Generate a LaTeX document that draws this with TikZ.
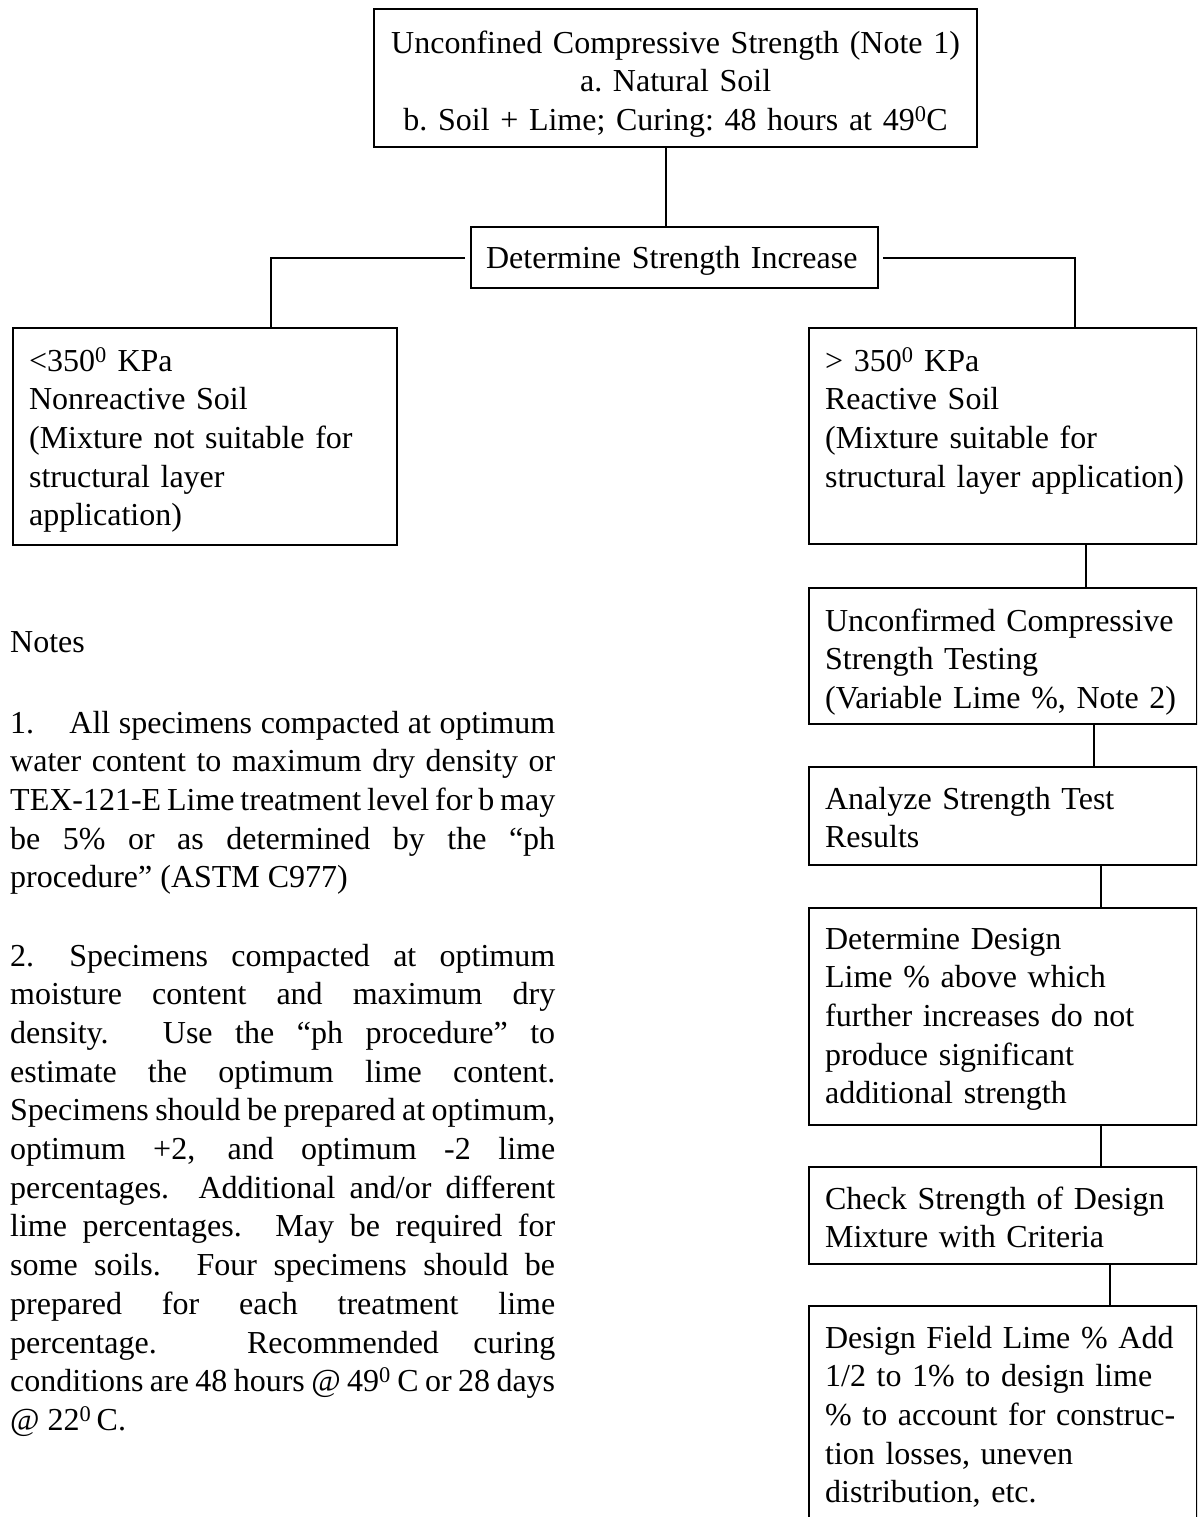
\documentclass[tikz,border=0pt]{standalone}
\usepackage{fontspec}
\setmainfont{Liberation Serif}
\newcommand\mybodyfont{\fontsize{32pt}{38.7pt}\selectfont}
\newcommand\myboxfont{\fontsize{32pt}{38.7pt}\selectfont\frenchspacing}
\newcommand\notesetup{\tolerance=10000\hyphenpenalty=10000\exhyphenpenalty=10000\emergencystretch=0pt}
\tikzset{
  box/.style={draw, line width=2.2pt, rectangle, anchor=north west, inner xsep=16pt, inner ysep=0pt, align=left, font=\myboxfont},
  conn/.style={line width=1.9pt},
  notetext/.style={anchor=base west, inner sep=0pt, text width=545pt, align=justify, font=\mybodyfont}
}
\begin{document}
\begin{tikzpicture}[x=1pt,y=-1pt]
\useasboundingbox (0,0) rectangle (1197,1517);
\fill[white] (0,0) rectangle (1197,1517);
\clip (0,0) rectangle (1197,1517);

% top box
\node[box, text width=571pt, align=center, text height=44pt, text depth=94pt] (top) at (373,8)
  {Unconfined Compressive Strength (Note 1)\\ a. Natural Soil\\ b. Soil + Lime; Curing: 48 hours at 49\textsuperscript{0}C};

\node[box, text width=377pt, inner xsep=15pt, text height=41pt, text depth=20pt] (dsi) at (470,226)
  {Determine Strength Increase};

\node[box, text width=352pt, text height=43pt, text depth=174pt] (lb) at (12,327)
  {<350\textsuperscript{0} KPa\\ Nonreactive Soil\\ (Mixture not suitable for\\ structural layer\\ application)};

\node[box, text width=356pt, text height=43pt, text depth=173pt] (rb) at (808,327)
  {> 350\textsuperscript{0} KPa\\ Reactive Soil\\ (Mixture suitable for\\ \mbox{structural layer application)}};

\node[box, text width=356pt, text height=43pt, text depth=93pt] (ucs) at (808,587)
  {\mbox{Unconfirmed Compressive}\\ Strength Testing\\ \mbox{(Variable Lime \%, Note 2)}};

\node[box, text width=356pt, text height=42pt, text depth=56pt] (ana) at (808,766)
  {Analyze Strength Test\\ Results};

\node[box, text width=356pt, text height=41pt, text depth=176pt] (dd) at (808,907)
  {Determine Design\\ Lime \% above which\\ further increases do not\\ produce significant\\ additional strength};

\node[box, text width=356pt, text height=42pt, text depth=55pt] (chk) at (808,1166)
  {\mbox{Check Strength of Design}\\ Mixture with Criteria};

\node[box, text width=356pt, text height=42pt, text depth=188pt] (df) at (808,1305)
  {\mbox{Design Field Lime \% Add}\\ 1/2 to 1\% to design lime\\ \mbox{\% to account for construc-}\\ tion losses, uneven\\ distribution, etc.};

% connectors
\draw[conn] ([xshift=-10pt]top.south) -- ([xshift=-10pt]top.south |- dsi.north);
\draw[conn, shorten <=5pt] (dsi.west) -| ([xshift=66pt]lb.north);
\draw[conn, shorten <=4pt] (dsi.east) -| ([xshift=72pt]rb.north);
\draw[conn] ([xshift=83pt]rb.south) -- ([xshift=83pt]ucs.north);
\draw[conn] ([xshift=91pt]ucs.south) -- ([xshift=91pt]ana.north);
\draw[conn] ([xshift=98pt]ana.south) -- ([xshift=98pt]dd.north);
\draw[conn] ([xshift=98pt]dd.south) -- ([xshift=98pt]chk.north);
\draw[conn] ([xshift=107pt]chk.south) -- ([xshift=107pt]df.north);

% notes
\node[anchor=base west, inner sep=0pt, font=\mybodyfont] (notes) at (10,652) {Notes};

\node[notetext] (n1) at (10,733) {\notesetup
1.\hspace*{1.1em}All specimens compacted at optimum\linebreak
water content to maximum dry density or\linebreak
TEX-121-E Lime treatment level for b may\linebreak
be 5\% or as determined by the “ph\linebreak
procedure” (ASTM C977)};

\node[notetext] (n2) at (10,966) {\notesetup
2.\hspace*{1.1em}Specimens compacted at optimum\linebreak
moisture content and maximum dry\linebreak
density. Use the “ph procedure” to\linebreak
estimate the optimum lime content.\linebreak
Specimens should be prepared at optimum,\linebreak
optimum +2, and optimum -2 lime\linebreak
percentages. Additional and/or different\linebreak
lime percentages. May be required for\linebreak
some soils. Four specimens should be\linebreak
prepared for each treatment lime\linebreak
percentage. Recommended curing\linebreak
conditions are 48 hours @ 49\textsuperscript{0} C or 28 days\linebreak
@ 22\textsuperscript{0}\,C.};
\end{tikzpicture}
\end{document}
